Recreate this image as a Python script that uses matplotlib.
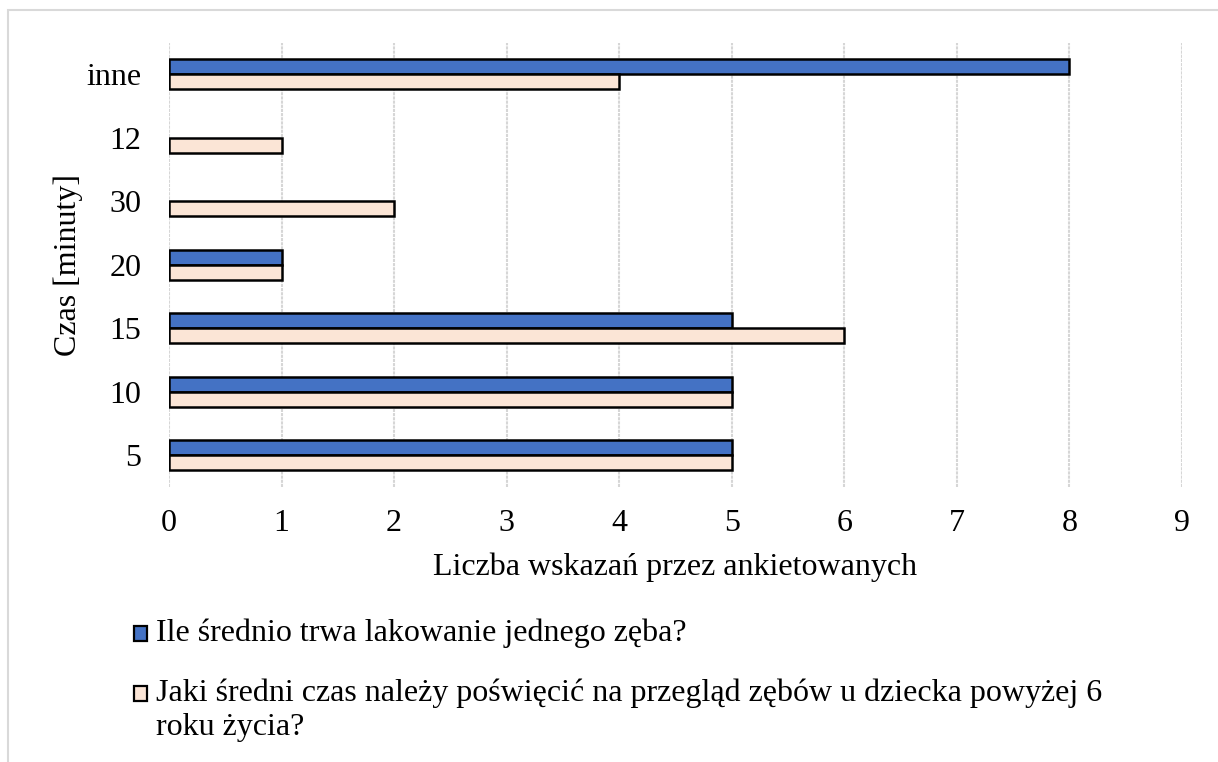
import numpy as np
import matplotlib
matplotlib.use("Agg")
from matplotlib import pyplot as plt, patches

categories = ["5", "10", "15", "20", "30", "12", "inne"]
lakowanie = [5, 5, 5, 1, 0, 0, 8]
przeglad = [5, 5, 6, 1, 2, 1, 4]
label_lak = "Ile średnio trwa lakowanie jednego zęba?"
label_prz = "Jaki średni czas należy poświęcić na przegląd zębów u dziecka powyżej 6\nroku życia?"

blue = "#4472C4"
pink = "#FBE5D6"

plt.rcParams["font.family"] = ["Liberation Serif", "DejaVu Serif"]
plt.rcParams["font.size"] = 23

fig = plt.figure(figsize=(12.18, 7.62), dpi=100)
ax = fig.add_axes([169 / 1218, 1 - 487 / 762, (1182 - 169) / 1218, (487 - 42.5) / 762])

# chart border (only top and left visible in the reference)
fig.add_artist(patches.Rectangle((8 / 1218, -0.1), 1.2, 1 - 10 / 762 + 0.1,
                                 transform=fig.transFigure, fill=False,
                                 edgecolor="#D9D9D9", linewidth=1.5))

y = np.arange(len(categories)) + 0.5
h = 0.24
lak = np.array(lakowanie, dtype=float)
prz = np.array(przeglad, dtype=float)
m = lak > 0
ax.barh(y[m] + h / 2, lak[m], height=h, color=blue, edgecolor="black", linewidth=1.8, zorder=3)
ax.barh(y - h / 2, prz, height=h, color=pink, edgecolor="black", linewidth=1.8, zorder=3)

ax.set_xlim(0, 9)
ax.set_ylim(0, len(categories))
ax.set_xticks(range(10))
ax.set_yticks(y)
ax.set_yticklabels(categories)
ax.tick_params(length=0)
ax.tick_params(axis="x", pad=16)
ax.tick_params(axis="y", pad=20)
for s in ax.spines.values():
    s.set_visible(False)
ax.grid(axis="x", color="#D6D6D6", linewidth=1.5, linestyle=(0, (1.5, 0.5)), zorder=0)

ax.set_xlabel("Liczba wskazań przez ankietowanych", labelpad=10)
ax.set_ylabel("Czas [minuty]")
ax.yaxis.set_label_coords(-86 / 1013, 0.5)

# legend drawn below the plot
for yy, col, txt in [(633, blue, label_lak), (693, pink, label_prz)]:
    fig.add_artist(patches.Rectangle((134 / 1218, 1 - (yy + 8) / 762), 13 / 1218, 15 / 762,
                                     transform=fig.transFigure, facecolor=col,
                                     edgecolor="black", linewidth=1.6))
    fig.text(156 / 1218, 1 - (yy - 15) / 762, txt, va="top", ha="left", linespacing=1.25)

fig.savefig("out.png", dpi=100)
